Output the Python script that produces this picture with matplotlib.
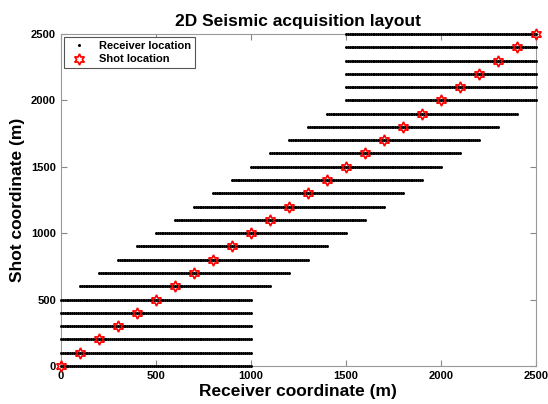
import matplotlib.pyplot as plt
import numpy as np

shots = [0, 100, 200, 300, 400, 500, 600, 700, 800, 900, 1000, 1100, 1200,
         1300, 1400, 1500, 1600, 1700, 1800, 1900, 2000, 2100, 2200, 2300, 2400, 2500]
# first receiver of the 1000 m spread for each shot
spread_start = [0, 0, 0, 0, 0, 0, 100, 200, 300, 400, 500, 600, 700,
                800, 900, 1000, 1100, 1200, 1300, 1400, 1500, 1500, 1500, 1500, 1500, 1500]
spread_length = 1000
receiver_step = 10

plt.rcParams['font.family'] = ['Liberation Sans', 'DejaVu Sans']
plt.rcParams['font.weight'] = 'bold'

fig = plt.figure(figsize=(5.48, 4.04), dpi=100)
ax = fig.add_axes([0.111, 0.094, 0.867, 0.822])

for i, s in enumerate(shots):
    rx = np.arange(spread_start[i], spread_start[i] + spread_length + 1, receiver_step)
    ry = np.full(len(rx), s)
    ax.plot(rx, ry, 'k.', markersize=2.3, clip_on=False, zorder=3,
            label='Receiver location' if i == 0 else None)

ax.plot(shots, shots, linestyle='none', marker=(6, 1, 0), markersize=8,
        markerfacecolor='none', markeredgecolor='red', markeredgewidth=1.2,
        clip_on=False, zorder=5, label='Shot location')

ax.set_xlim(0, 2500)
ax.set_ylim(0, 2500)
ax.set_xticks([0, 500, 1000, 1500, 2000, 2500])
ax.set_yticks([0, 500, 1000, 1500, 2000, 2500])
ax.tick_params(direction='in', top=True, right=True, labelsize=8, length=4, color='#888888')
for sp in ax.spines.values():
    sp.set_color('#999999')

ax.set_title('2D Seismic acquisition layout', fontsize=12.5, fontweight='bold')
ax.set_xlabel('Receiver coordinate (m)', fontsize=12.5, fontweight='bold', labelpad=2)
ax.set_ylabel('Shot coordinate (m)', fontsize=12.5, fontweight='bold', labelpad=4)

leg = ax.legend(loc='upper left', fontsize=8, fancybox=False, framealpha=1,
                edgecolor='#555555', borderpad=0.35, labelspacing=0.3, handletextpad=0.8,
                borderaxespad=0.3, markerscale=1.0)
leg.get_frame().set_linewidth(0.8)
leg.set_zorder(6)

fig.savefig('out.png', dpi=100)
